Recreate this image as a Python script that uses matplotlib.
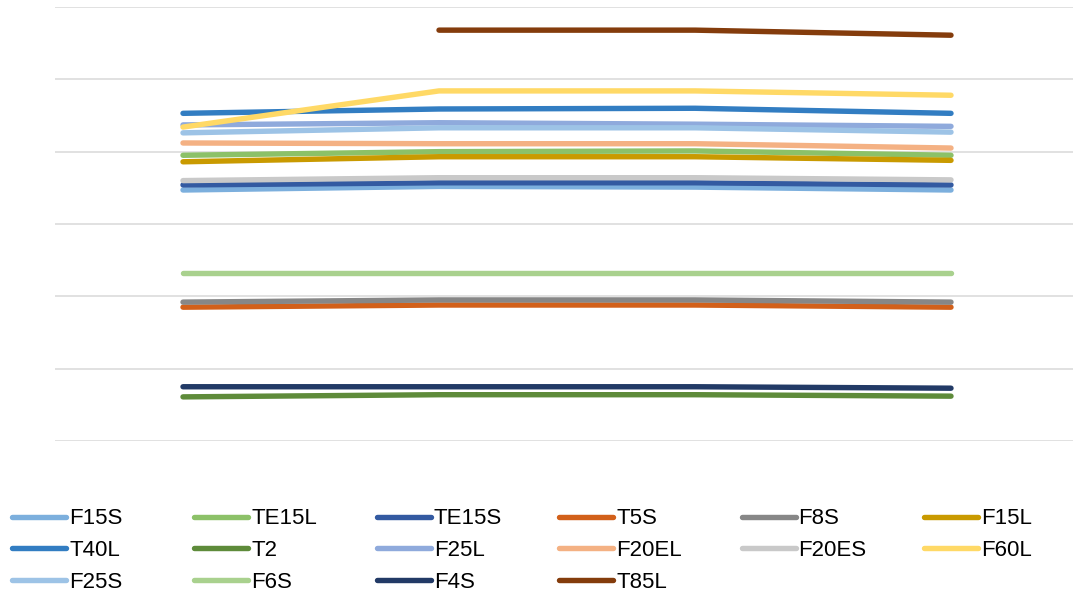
import numpy as np
import matplotlib.pyplot as plt
from matplotlib.lines import Line2D

plt.rcParams['font.family'] = ['Liberation Sans', 'DejaVu Sans']

# Data (grid step = 10 units)
periods = ['P1', 'P2', 'P3', 'P4']
names = ['F15S', 'TE15L', 'TE15S', 'T5S', 'F8S', 'F15L',
         'T40L', 'T2', 'F25L', 'F20EL', 'F20ES', 'F60L',
         'F25S', 'F6S', 'F4S', 'T85L']
colors = ['#7CAFDD', '#8CC168', '#335AA1', '#D2601A', '#878787', '#C99A00',
          '#327DC2', '#5E8B3A', '#8FAADC', '#F4B183', '#C9C9C9', '#FFD966',
          '#9DC3E6', '#A9D18E', '#223A66', '#843C0C']
F15S = [34.7, 35.2, 35.1, 34.7]
TE15L = [39.5, 40.0, 40.1, 39.5]
TE15S = [35.4, 35.7, 35.7, 35.4]
T5S = [18.5, 18.8, 18.8, 18.5]
F8S = [19.2, 19.5, 19.5, 19.2]
F15L = [38.6, 39.3, 39.3, 38.8]
T40L = [45.3, 45.9, 46.0, 45.3]
T2 = [6.1, 6.4, 6.4, 6.2]
F25L = [43.7, 44.0, 43.8, 43.5]
F20EL = [41.2, 41.1, 41.1, 40.5]
F20ES = [36.0, 36.4, 36.4, 36.1]
F60L = [43.4, 48.4, 48.4, 47.8]
F25S = [42.6, 43.3, 43.3, 42.7]
F6S = [23.2, 23.2, 23.2, 23.2]
F4S = [7.5, 7.5, 7.5, 7.3]
T85L = [np.nan, 56.8, 56.8, 56.1]

series = [F15S, TE15L, TE15S, T5S, F8S, F15L, T40L, T2, F25L, F20EL,
          F20ES, F60L, F25S, F6S, F4S, T85L]

W, H = 1073, 599
fig = plt.figure(figsize=(W / 100, H / 100), dpi=100)
ax = fig.add_axes([55 / W, 1 - 441 / H, 1024 / W, 434 / H])

x = np.arange(len(periods))
for name, vals, c in zip(names, series, colors):
    ax.plot(x, vals, color=c, lw=3.9, solid_capstyle='round', label=name)

ax.set_xlim(-0.5, 3.5)
ax.set_ylim(0, 60)
ax.set_yticks(np.arange(0, 61, 10))
ax.grid(axis='y', color='#D9D9D9', lw=1.1)
ax.set_axisbelow(True)
ax.tick_params(left=False, bottom=False, labelleft=False, labelbottom=False)
for s in ax.spines.values():
    s.set_visible(False)

# Legend laid out row by row like the original
for i, (name, c) in enumerate(zip(names, colors)):
    row, col = divmod(i, 6)
    x0 = 12 + col * 182.4
    y0 = 516.5 + row * 31.8
    fig.add_artist(Line2D([x0 / W, (x0 + 54) / W], [1 - y0 / H, 1 - y0 / H],
                          color=c, lw=3.9, solid_capstyle='round',
                          transform=fig.transFigure))
    fig.text((x0 + 57) / W, 1 - y0 / H, name, fontsize=16,
             va='center_baseline', ha='left', color='black')

fig.savefig('out.png', dpi=100)
